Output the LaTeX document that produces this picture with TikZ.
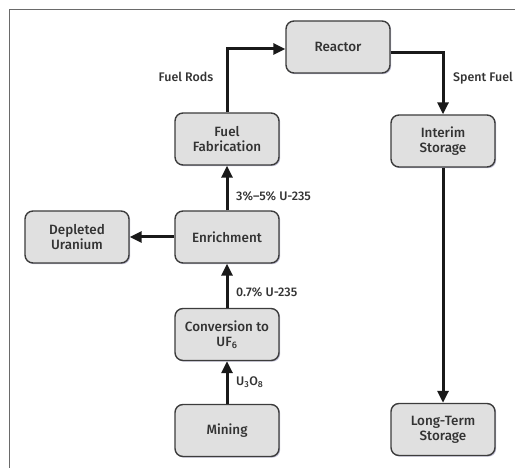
\documentclass[tikz,border=0pt]{standalone}
\usepackage{fontspec}
\setmainfont{Fira Sans}
\newfontfamily\medfont{Fira Sans Medium}
\usetikzlibrary{arrows.meta,shadows}
\definecolor{boxfill}{HTML}{E0E0E0}
\definecolor{boxline}{HTML}{3C3C3C}
\definecolor{ink}{HTML}{333333}
\definecolor{glow}{HTML}{8A88B0}
\definecolor{framecol}{HTML}{6A6A6A}
\tikzset{
  stage/.style={draw=boxline, line width=1.4bp, fill=boxfill, rounded corners=8bp,
    minimum width=104bp, minimum height=52bp, align=center, text=ink,
    font=\medfont\fontsize{13.5}{15}\selectfont, inner sep=2bp,
    drop shadow={shadow xshift=1.2bp, shadow yshift=-1.2bp, fill=glow, opacity=0.55}},
  flow/.style={line width=3bp, draw=black!90, -{Triangle[length=12bp,width=11bp]}},
  tag/.style={text=ink, font=\medfont\fontsize{12.5}{14}\selectfont, inner sep=0pt}
}
\begin{document}
\begin{tikzpicture}[x=1bp,y=-1bp]
\useasboundingbox (0,0) rectangle (515,468);
% frame
\draw[framecol, line width=1.6bp] (515,9.5) -- (9.5,9.5) -- (9.5,468);
% stages
\node[stage] (reactor) at (338,47) {Reactor};
\node[stage] (fab) at (227,139) {Fuel\\Fabrication};
\node[stage] (interim) at (443,141) {Interim\\Storage};
\node[stage] (depleted) at (77,237) {Depleted\\Uranium};
\node[stage] (enrich) at (227,237) {Enrichment};
\node[stage] (conv) at (227,334.5) {Conversion to\\UF\textsubscript{6}};
\node[stage] (mining) at (227,430.5) {Mining};
\node[stage] (longterm) at (443,429.5) {Long-Term\\Storage};
% connectors
\draw[flow] (fab.north) |- ([yshift=-2bp]reactor.west);
\draw[flow] ([yshift=-6bp]reactor.east) -| (interim.north);
\draw[flow] (interim.south) -- (longterm.north);
\draw[flow] (enrich.north) -- (fab.south);
\draw[flow] (enrich.west) -- (depleted.east);
\draw[flow] (conv.north) -- (enrich.south);
\draw[flow] (mining.north) -- (conv.south);
% labels
\node[tag] (lrods) at (186,77) {Fuel Rods};
\node[tag, anchor=west] (lspent) at (453,78) {Spent Fuel};
\node[tag, anchor=west] (lenr) at (236,196) {3\%–5\% U-235};
\node[tag, anchor=west] (lnat) at (236,292) {0.7\% U-235};
\node[tag, anchor=west] (lore) at (236,382) {U\textsubscript{3}O\textsubscript{8}};
\end{tikzpicture}
\end{document}
